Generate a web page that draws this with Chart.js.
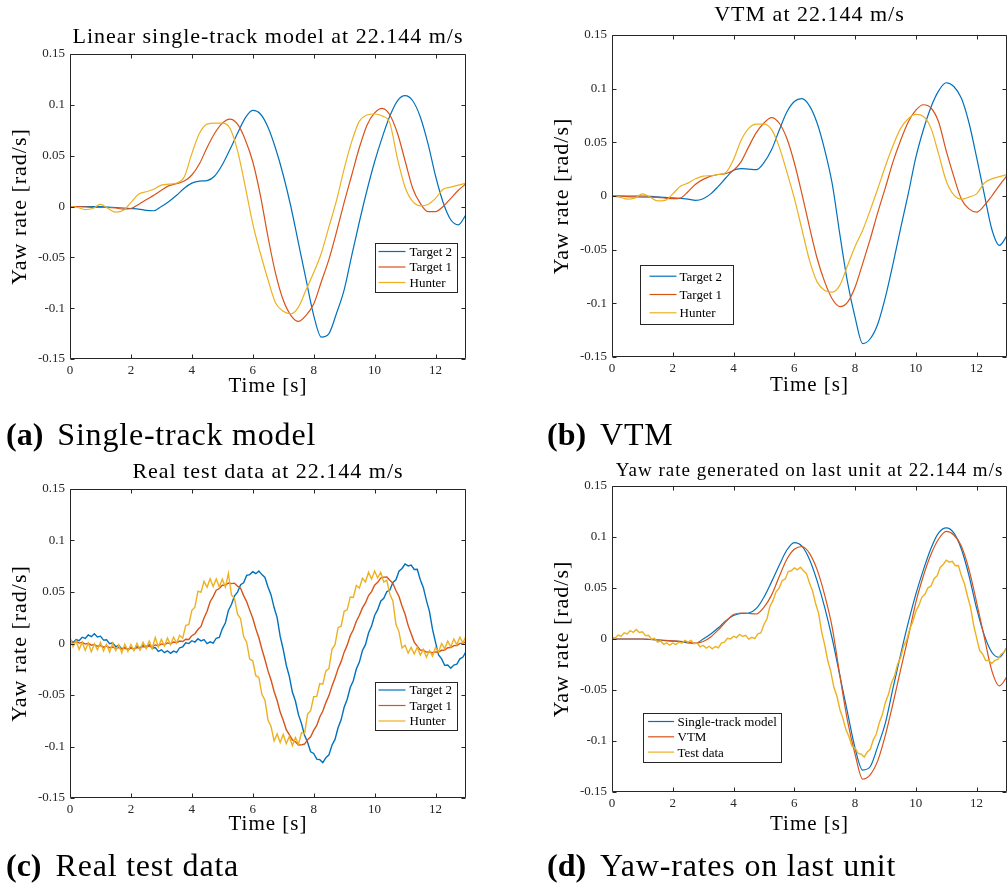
<!DOCTYPE html>
<html>
<head>
<meta charset="utf-8">
<title>Yaw rate at 22.144 m/s</title>
<script src="https://cdn.jsdelivr.net/npm/chart.js@4.4.1/dist/chart.umd.min.js"></script>
<style>
  body { margin: 0; background: #fff; width: 1008px; height: 892px; position: relative; overflow: hidden; }
  .panel { position: absolute; width: 504px; height: 446px; }
  .caption { position: absolute; font-family: "Liberation Serif", "Times New Roman", serif; font-size: 32px; line-height: 32px; color: #000; white-space: nowrap; }
  .caption span { margin-left: 14px; letter-spacing: 0.8px; }
</style>
</head>
<body>
<div class="panel" style="left:0;top:0"><canvas id="stmChart"></canvas></div>
<div class="panel" style="left:504px;top:0"><canvas id="vtmChart"></canvas></div>
<div class="panel" style="left:0;top:446px"><canvas id="testChart"></canvas></div>
<div class="panel" style="left:504px;top:446px"><canvas id="lastUnitChart"></canvas></div>

<div class="caption" style="left:6px;top:418px"><b>(a)</b><span>Single-track model</span></div>
<div class="caption" style="left:547px;top:418px"><b>(b)</b><span>VTM</span></div>
<div class="caption" style="left:6px;top:849px"><b>(c)</b><span>Real test data</span></div>
<div class="caption" style="left:547px;top:849px"><b>(d)</b><span>Yaw-rates on last unit</span></div>

<script>
// simulation output, sampled every 0.25 s
const TIME_COARSE = [
  0, 0.25, 0.5, 0.75, 1, 1.25, 1.5, 1.75, 2,
  2.25, 2.5, 2.75, 3, 3.25, 3.5, 3.75, 4,
  4.25, 4.5, 4.75, 5, 5.25, 5.5, 5.75, 6,
  6.25, 6.5, 6.75, 7, 7.25, 7.5, 7.75, 8,
  8.25, 8.5, 8.75, 9, 9.25, 9.5, 9.75, 10,
  10.25, 10.5, 10.75, 11, 11.25, 11.5, 11.75, 12,
  12.25, 12.5, 12.75, 13
];

// measured data, sampled every 0.1 s
const TIME_FINE = [
  0, 0.1, 0.2, 0.3, 0.4, 0.5, 0.6, 0.7, 0.8, 0.9,
  1, 1.1, 1.2, 1.3, 1.4, 1.5, 1.6, 1.7, 1.8, 1.9,
  2, 2.1, 2.2, 2.3, 2.4, 2.5, 2.6, 2.7, 2.8, 2.9,
  3, 3.1, 3.2, 3.3, 3.4, 3.5, 3.6, 3.7, 3.8, 3.9,
  4, 4.1, 4.2, 4.3, 4.4, 4.5, 4.6, 4.7, 4.8, 4.9,
  5, 5.1, 5.2, 5.3, 5.4, 5.5, 5.6, 5.7, 5.8, 5.9,
  6, 6.1, 6.2, 6.3, 6.4, 6.5, 6.6, 6.7, 6.8, 6.9,
  7, 7.1, 7.2, 7.3, 7.4, 7.5, 7.6, 7.7, 7.8, 7.9,
  8, 8.1, 8.2, 8.3, 8.4, 8.5, 8.6, 8.7, 8.8, 8.9,
  9, 9.1, 9.2, 9.3, 9.4, 9.5, 9.6, 9.7, 9.8, 9.9,
  10, 10.1, 10.2, 10.3, 10.4, 10.5, 10.6, 10.7, 10.8, 10.9,
  11, 11.1, 11.2, 11.3, 11.4, 11.5, 11.6, 11.7, 11.8, 11.9,
  12, 12.1, 12.2, 12.3, 12.4, 12.5, 12.6, 12.7, 12.8, 12.9,
  13
];

const X_TICKS = [0, 2, 4, 6, 8, 10, 12];
const Y_TICKS = [-0.15, -0.1, -0.05, 0, 0.05, 0.1, 0.15];
const Y_TICK_LABELS = ['-0.15', '-0.1', '-0.05', '0', '0.05', '0.1', '0.15'];

// linear single-track model [rad/s]
const STM_TARGET2 = [
  0, 0, 0, 0, 0, -0.0005, -0.001, -0.0015, -0.002,
  -0.0025, -0.0038, -0.0042, 0.0, 0.005, 0.011, 0.018, 0.023,
  0.025, 0.0255, 0.030, 0.041, 0.056, 0.072, 0.087, 0.0945,
  0.091, 0.078, 0.057, 0.031, 0.000, -0.036, -0.072, -0.107,
  -0.1285, -0.125, -0.105, -0.082, -0.048, -0.015, 0.016, 0.044,
  0.068, 0.089, 0.104, 0.109, 0.104, 0.088, 0.062, 0.030,
  0.004, -0.013, -0.018, -0.008
];
const STM_TARGET1 = [
  0, 0, -0.0005, -0.001, -0.001, -0.001, -0.0015, -0.0025, -0.002,
  0.002, 0.0066, 0.011, 0.016, 0.0205, 0.0225, 0.025, 0.031,
  0.042, 0.058, 0.072, 0.082, 0.086, 0.081, 0.066, 0.044,
  0.011, -0.030, -0.066, -0.092, -0.107, -0.113, -0.107, -0.096,
  -0.074, -0.052, -0.025, 0.004, 0.031, 0.058, 0.080, 0.092,
  0.0965, 0.090, 0.072, 0.045, 0.018, 0.003, -0.005, -0.005,
  0.000, 0.008, 0.016, 0.0223
];
const STM_HUNTER = [
  0, -0.001, -0.003, -0.002, 0.002, -0.002, -0.0055, -0.004, 0.004,
  0.012, 0.0145, 0.017, 0.021, 0.022, 0.023, 0.029, 0.052,
  0.072, 0.081, 0.082, 0.082, 0.077, 0.055, 0.020, -0.017,
  -0.046, -0.072, -0.095, -0.103, -0.1055, -0.099, -0.082, -0.065,
  -0.046, -0.020, 0.006, 0.037, 0.064, 0.084, 0.090, 0.091,
  0.089, 0.082, 0.047, 0.019, 0.005, 0.0007, 0.002, 0.008,
  0.017, 0.019, 0.021, 0.023
];

// VTM [rad/s]
const VTM_TARGET2 = [
  0, 0, 0, 0, 0, -0.0003, -0.0008, -0.0012, -0.0018,
  -0.0022, -0.003, -0.004, -0.0025, 0.002, 0.009, 0.017, 0.024,
  0.0255, 0.025, 0.0245, 0.031, 0.043, 0.061, 0.078, 0.088,
  0.0907, 0.084, 0.068, 0.043, 0.011, -0.036, -0.080, -0.113,
  -0.1375, -0.133, -0.119, -0.094, -0.063, -0.030, 0.002, 0.036,
  0.062, 0.083, 0.098, 0.1055, 0.102, 0.091, 0.068, 0.036,
  0.002, -0.031, -0.046, -0.037
];
const VTM_TARGET1 = [
  0, 0, -0.0005, -0.0008, -0.001, -0.001, -0.0012, -0.002, -0.0025,
  -0.002, 0.004, 0.011, 0.0155, 0.0185, 0.020, 0.021, 0.024,
  0.032, 0.046, 0.059, 0.068, 0.073, 0.068, 0.054, 0.031,
  0.002, -0.029, -0.058, -0.080, -0.096, -0.103, -0.099, -0.085,
  -0.063, -0.040, -0.015, 0.008, 0.032, 0.052, 0.069, 0.080,
  0.085, 0.082, 0.069, 0.042, 0.018, -0.003, -0.012, -0.015,
  -0.009, 0.000, 0.010, 0.019
];
const VTM_HUNTER = [
  0, -0.001, -0.003, -0.002, 0.002, -0.001, -0.0045, -0.004, 0.002,
  0.009, 0.012, 0.016, 0.0185, 0.019, 0.020, 0.022, 0.034,
  0.052, 0.063, 0.067, 0.067, 0.062, 0.046, 0.023, -0.002,
  -0.031, -0.060, -0.080, -0.088, -0.0895, -0.083, -0.065, -0.047,
  -0.032, -0.013, 0.007, 0.028, 0.047, 0.063, 0.072, 0.076,
  0.074, 0.063, 0.039, 0.014, 0.001, -0.003, -0.001, 0.002,
  0.012, 0.016, 0.018, 0.020
];

// real test data [rad/s]
const REAL_TARGET2 = [
  0.0021, 0.0008, 0.0039, 0.0027, 0.0061, 0.0049, 0.0083, 0.0066, 0.0094, 0.0064,
  0.0071, 0.0033, 0.0036, -0.0002, 0.0006, -0.0031, -0.0019, -0.0052, -0.0037, -0.0061,
  -0.0039, -0.0056, -0.0029, -0.0042, -0.0013, -0.0031, -0.0014, -0.0046, -0.0039, -0.0076,
  -0.0061, -0.0089, -0.0071, -0.0096, -0.0074, -0.0087, -0.0041, -0.0032, 0.0006, -0.0001,
  0.0027, 0.0014, 0.0046, 0.0025, 0.0037, -0.0001, 0.0016, 0.0004, 0.0051, 0.0059,
  0.0142, 0.0199, 0.0321, 0.0378, 0.0462, 0.0499, 0.0571, 0.0589, 0.0661, 0.0669,
  0.0697, 0.0678, 0.0703, 0.0669, 0.0641, 0.0549, 0.0472, 0.0349, 0.0251, 0.0069,
  -0.0058, -0.0211, -0.0319, -0.0471, -0.0558, -0.0691, -0.0778, -0.0891, -0.0958, -0.1051,
  -0.1068, -0.1122, -0.1128, -0.1157, -0.1108, -0.1081, -0.0988, -0.0931, -0.0818, -0.0741,
  -0.0619, -0.0541, -0.0428, -0.0361, -0.0248, -0.0181, -0.0068, -0.0011, 0.0102, 0.0169,
  0.0272, 0.0329, 0.0411, 0.0439, 0.0502, 0.0519, 0.0592, 0.0619, 0.0702, 0.0729,
  0.0772, 0.0753, 0.0762, 0.0719, 0.0721, 0.0619, 0.0542, 0.0419, 0.0312, 0.0139,
  0.0011, -0.0111, -0.0149, -0.0212, -0.0209, -0.0241, -0.0209, -0.0201, -0.0149, -0.0131,
  -0.0079
];
const REAL_TARGET1 = [
  0.0034, 0.0014, 0.0021, 0.0004, 0.0011, -0.0006, 0.0002, -0.0016, -0.0009, -0.0027,
  -0.0019, -0.0036, -0.0025, -0.0041, -0.0034, -0.0047, -0.0039, -0.0052, -0.0044, -0.0057,
  -0.0045, -0.0054, -0.0039, -0.0046, -0.0029, -0.0037, -0.0022, -0.0031, -0.0014, -0.0021,
  -0.0004, -0.0011, 0.0006, -0.0002, 0.0014, 0.0007, 0.0024, 0.0019, 0.0041, 0.0039,
  0.0076, 0.0095, 0.0136, 0.0166, 0.0247, 0.0314, 0.0406, 0.0455, 0.0517, 0.0534,
  0.0566, 0.0564, 0.0587, 0.0581, 0.0586, 0.0556, 0.0536, 0.0465, 0.0406, 0.0324,
  0.0245, 0.0144, 0.0056, -0.0056, -0.0155, -0.0266, -0.0354, -0.0466, -0.0554, -0.0666,
  -0.0745, -0.0836, -0.0884, -0.0936, -0.0955, -0.0986, -0.0984, -0.0976, -0.0934, -0.0906,
  -0.0844, -0.0796, -0.0714, -0.0656, -0.0574, -0.0506, -0.0414, -0.0336, -0.0244, -0.0176,
  -0.0084, -0.0016, 0.0076, 0.0134, 0.0216, 0.0274, 0.0346, 0.0394, 0.0466, 0.0504,
  0.0566, 0.0594, 0.0636, 0.0644, 0.0646, 0.0614, 0.0584, 0.0514, 0.0456, 0.0364,
  0.0284, 0.0176, 0.0094, 0.0014, -0.0026, -0.0064, -0.0066, -0.0084, -0.0081, -0.0089,
  -0.0081, -0.0084, -0.0066, -0.0064, -0.0041, -0.0039, -0.0021, -0.0019, 0.0001, 0.0003,
  0.0016
];
const REAL_HUNTER = [
  0.0062, -0.0031, 0.0024, -0.0058, 0.0013, -0.0066, 0.0004, -0.0079, -0.0002, -0.0061,
  0.0011, -0.0072, -0.0008, -0.0084, 0.0002, -0.0069, -0.0011, -0.0092, -0.0006, -0.0078,
  -0.0009, -0.0071, 0.0003, -0.0064, 0.0011, -0.0052, 0.0023, -0.0049, 0.0058, -0.0033,
  0.0041, -0.0024, 0.0052, -0.0012, 0.0061, 0.0004, 0.0079, 0.0051, 0.0176, 0.0183,
  0.0322, 0.0352, 0.0508, 0.0497, 0.0603, 0.0546, 0.0628, 0.0553, 0.0627, 0.0551,
  0.0624, 0.0548, 0.0681, 0.0472, 0.0438, 0.0284, 0.0241, 0.0068, 0.0011, -0.0152,
  -0.0168, -0.0313, -0.0329, -0.0494, -0.0551, -0.0742, -0.0806, -0.0947, -0.0878, -0.0961,
  -0.0883, -0.0972, -0.0902, -0.0991, -0.0914, -0.0978, -0.0866, -0.0875, -0.0686, -0.0652,
  -0.0517, -0.0513, -0.0388, -0.0394, -0.0266, -0.0243, -0.0057, -0.0012, 0.0154, 0.0168,
  0.0313, 0.0327, 0.0452, 0.0448, 0.0563, 0.0538, 0.0634, 0.0597, 0.0692, 0.0627,
  0.0703, 0.0636, 0.0692, 0.0598, 0.0613, 0.0478, 0.0412, 0.0187, 0.0113, -0.0043,
  -0.0017, -0.0094, -0.0038, -0.0103, -0.0036, -0.0112, -0.0057, -0.0134, -0.0068, -0.0123,
  -0.0038, -0.0082, 0.0001, -0.0052, 0.0022, -0.0031, 0.0043, -0.0011, 0.0062, 0.0004,
  0.0073
];

const BLUE = '#0072BD';
const RED = '#D95319';
const YELLOW = '#EDB120';
const AXIS = '#262626';
const SERIF = "'Liberation Serif', 'Times New Roman', serif";

Chart.defaults.font.family = SERIF;
Chart.defaults.color = AXIS;

function pairs(xs, ys) {
  return ys.map((y, i) => ({ x: xs[i], y: y }));
}

function smooth(label, xs, ys, color, order) {
  return { label, data: pairs(xs, ys), borderColor: color, backgroundColor: color,
           order, borderWidth: 1.2, cubicInterpolationMode: 'monotone' };
}

function noisy(label, xs, ys, color, order) {
  return { label, data: pairs(xs, ys), borderColor: color, backgroundColor: color,
           order, borderWidth: 1.4, tension: 0 };
}

// titles get a little tracking; tick labels (z: 1) are drawn after datasets without it
const textSpacing = {
  id: 'textSpacing',
  beforeDraw(chart) { chart.ctx.letterSpacing = '1px'; },
  beforeDatasetsDraw(chart) { chart.ctx.letterSpacing = '0px'; }
};

// boxed axes with inward ticks on all four sides
const boxFrame = {
  id: 'boxFrame',
  afterDatasetsDraw(chart) {
    const { ctx, chartArea: a, scales: { x, y } } = chart;
    const L = Math.round(a.left) + 0.5, R = Math.round(a.right) - 0.5;
    const T = Math.round(a.top) + 0.5, B = Math.round(a.bottom) - 0.5;
    ctx.save();
    ctx.strokeStyle = AXIS;
    ctx.lineWidth = 1;
    ctx.beginPath();
    X_TICKS.forEach(v => {
      const px = Math.round(x.getPixelForValue(v)) + 0.5;
      ctx.moveTo(px, B); ctx.lineTo(px, B - 4);
      ctx.moveTo(px, T); ctx.lineTo(px, T + 4);
    });
    Y_TICKS.forEach(v => {
      const py = Math.round(y.getPixelForValue(v)) + 0.5;
      ctx.moveTo(L, py); ctx.lineTo(L + 4, py);
      ctx.moveTo(R, py); ctx.lineTo(R - 4, py);
    });
    ctx.rect(L, T, R - L, B - T);
    ctx.stroke();
    ctx.restore();
  }
};

// legend drawn inside the axes, in a framed white box
const boxLegend = {
  id: 'boxLegend',
  afterDraw(chart, args, opts) {
    const { ctx, chartArea: a } = chart;
    const x0 = Math.round(a.left + opts.left) + 0.5;
    const y0 = Math.round(a.top + opts.top) + 0.5;
    ctx.save();
    ctx.letterSpacing = '0px';
    ctx.fillStyle = '#fff';
    ctx.fillRect(x0, y0, opts.width, opts.height);
    ctx.strokeStyle = AXIS;
    ctx.lineWidth = 1;
    ctx.strokeRect(x0, y0, opts.width, opts.height);
    ctx.font = '13px ' + SERIF;
    ctx.textBaseline = 'middle';
    chart.data.datasets.forEach((ds, i) => {
      const yy = y0 + opts.firstRow + i * opts.rowGap;
      ctx.strokeStyle = ds.borderColor;
      ctx.lineWidth = 1.2;
      ctx.beginPath();
      ctx.moveTo(x0 + opts.lineStart, yy);
      ctx.lineTo(x0 + opts.lineEnd, yy);
      ctx.stroke();
      ctx.fillStyle = '#000';
      ctx.fillText(ds.label, x0 + opts.textStart, yy + 1);
    });
    ctx.restore();
  }
};

function makeChart(id, cfg) {
  return new Chart(document.getElementById(id), {
    type: 'line',
    data: { datasets: cfg.datasets },
    options: {
      responsive: true,
      maintainAspectRatio: false,
      animation: false,
      events: [],
      layout: { padding: cfg.padding },
      elements: { point: { radius: 0 } },
      plugins: {
        legend: { display: false },
        tooltip: { enabled: false },
        title: {
          display: true, text: cfg.title, fullSize: false, color: '#000',
          font: { family: SERIF, size: cfg.titleSize, weight: 'normal' },
          padding: cfg.titlePad
        },
        boxLegend: cfg.legend
      },
      scales: {
        x: {
          type: 'linear', min: 0, max: 13,
          afterBuildTicks: s => { s.ticks = X_TICKS.map(v => ({ value: v })); },
          afterFit: s => { s.height = cfg.xHeight; },
          grid: { display: false, drawTicks: false },
          border: { display: false },
          ticks: { z: 1, padding: 4, color: AXIS, font: { size: 13 }, maxRotation: 0, autoSkip: false },
          title: { display: true, text: 'Time [s]', color: '#000',
                   font: { size: 21 }, padding: { top: 0, bottom: 0 } }
        },
        y: {
          min: -0.15, max: 0.15,
          afterBuildTicks: s => { s.ticks = Y_TICKS.map(v => ({ value: v })); },
          afterFit: s => { s.width = cfg.yWidth; },
          grid: { display: false, drawTicks: false },
          border: { display: false },
          ticks: { z: 1, padding: 5, color: AXIS, font: { size: 13 }, autoSkip: false,
                   callback: (v, i) => Y_TICK_LABELS[i] },
          title: { display: true, text: 'Yaw rate [rad/s]', color: '#000',
                   font: { size: 22 }, padding: { top: cfg.yTitlePad, bottom: 0 } }
        }
      }
    },
    plugins: [textSpacing, boxFrame, boxLegend]
  });
}

makeChart('stmChart', {
  title: 'Linear single-track model at 22.144 m/s',
  titleSize: 22, titlePad: { top: 23.8, bottom: 3.8 },
  padding: { left: 0, right: 38, top: 0, bottom: 47 },
  xHeight: 40, yWidth: 70, yTitlePad: 6.8,
  legend: { left: 305, top: 189, width: 82, height: 49, firstRow: 8, rowGap: 15.5,
            lineStart: 3, lineEnd: 30, textStart: 34 },
  datasets: [
    smooth('Target 2', TIME_COARSE, STM_TARGET2, BLUE, 3),
    smooth('Target 1', TIME_COARSE, STM_TARGET1, RED, 2),
    smooth('Hunter', TIME_COARSE, STM_HUNTER, YELLOW, 1)
  ]
});

makeChart('vtmChart', {
  title: 'VTM at 22.144 m/s',
  titleSize: 22, titlePad: { top: 1.8, bottom: 6.8 },
  padding: { left: 0, right: 1, top: 0, bottom: 48 },
  xHeight: 41, yWidth: 108, yTitlePad: 44.8,
  legend: { left: 28, top: 230, width: 93, height: 59, firstRow: 10.7, rowGap: 18.3,
            lineStart: 9, lineEnd: 36, textStart: 39 },
  datasets: [
    smooth('Target 2', TIME_COARSE, VTM_TARGET2, BLUE, 3),
    smooth('Target 1', TIME_COARSE, VTM_TARGET1, RED, 2),
    smooth('Hunter', TIME_COARSE, VTM_HUNTER, YELLOW, 1)
  ]
});

makeChart('testChart', {
  title: 'Real test data at 22.144 m/s',
  titleSize: 22, titlePad: { top: 12.8, bottom: 3.8 },
  padding: { left: 0, right: 38, top: 0, bottom: 55 },
  xHeight: 39, yWidth: 70, yTitlePad: 6.8,
  legend: { left: 305, top: 193, width: 82, height: 48, firstRow: 7.5, rowGap: 15.5,
            lineStart: 3, lineEnd: 30, textStart: 34 },
  datasets: [
    noisy('Target 2', TIME_FINE, REAL_TARGET2, BLUE, 3),
    noisy('Target 1', TIME_FINE, REAL_TARGET1, RED, 2),
    noisy('Hunter', TIME_FINE, REAL_HUNTER, YELLOW, 1)
  ]
});

// the last unit is Target 2 in each source
makeChart('lastUnitChart', {
  title: 'Yaw rate generated on last unit at 22.144 m/s',
  titleSize: 19, titlePad: { top: 13.6, bottom: 3.6 },
  padding: { left: 0, right: 1, top: 0, bottom: 55 },
  xHeight: 45, yWidth: 108, yTitlePad: 44.8,
  legend: { left: 31, top: 227, width: 138, height: 49, firstRow: 8, rowGap: 15.3,
            lineStart: 4.6, lineEnd: 30.6, textStart: 34 },
  datasets: [
    smooth('Single-track model', TIME_COARSE, STM_TARGET2, BLUE, 3),
    smooth('VTM', TIME_COARSE, VTM_TARGET2, RED, 2),
    noisy('Test data', TIME_FINE, REAL_TARGET2, YELLOW, 1)
  ]
});
</script>
</body>
</html>
